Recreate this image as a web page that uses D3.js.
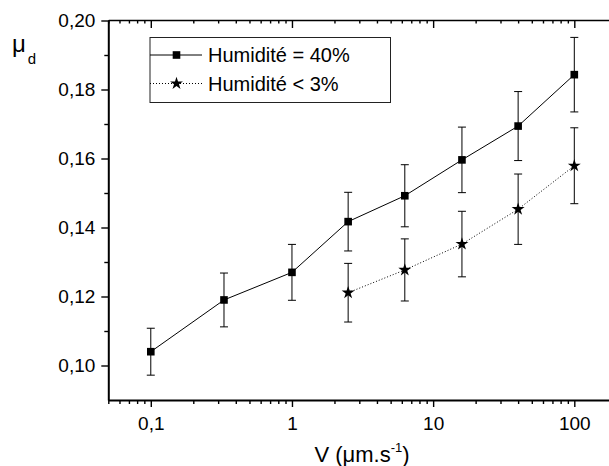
<!DOCTYPE html>
<html>
<head>
<meta charset="utf-8">
<script src="https://cdn.jsdelivr.net/npm/d3@7"></script>
<style>
  body { margin: 0; background: #fff; }
  svg { display: block; font-family: Arial, "Liberation Sans", sans-serif; }
</style>
</head>
<body>
<div id="chart"></div>
<script>
// speeds (µm/s) and friction coefficient
var speeds = [0.1, 0.33, 1, 2.5, 6.3, 16, 40, 100];
var muWet = [0.104, 0.119, 0.127, 0.1417, 0.1492, 0.1596, 0.1694, 0.1843];
var errWet = [0.0068, 0.0078, 0.0081, 0.0085, 0.0090, 0.0095, 0.0100, 0.0108];
var speedsDry = [2.5, 6.3, 16, 40, 100];
var muDry = [0.1211, 0.1277, 0.1352, 0.1453, 0.1579];
var errDry = [0.0085, 0.0090, 0.0095, 0.0102, 0.0110];

var seriesNames = ["Humidité = 40%", "Humidité < 3%"];
var yMajor = [0.10, 0.12, 0.14, 0.16, 0.18, 0.20];
var yMinor = [0.11, 0.13, 0.15, 0.17, 0.19];
var xMajor = [0.1, 1, 10, 100];
var xMajorLabels = ["0,1", "1", "10", "100"];

var width = 609, height = 466;
var x = d3.scaleLog().domain([0.05, 200]).range([108.3, 616.8]);
var y = d3.scaleLinear().domain([0.09, 0.20]).range([400, 20.5]);

var xMinor = [];
[0.01, 0.1, 1, 10, 100].forEach(function (d) {
  for (var k = 2; k <= 9; k++) {
    var v = +(d * k).toPrecision(3);
    if (v >= 0.05 && v <= 200) xMinor.push(v);
  }
});

var svg = d3.select("#chart").append("svg").attr("width", width).attr("height", height);

var fmtY = function (d) { return d3.format(".2f")(d).replace(".", ","); };

// bottom axis
svg.append("g").attr("transform", "translate(0,400)")
  .call(d3.axisBottom(x).tickValues(xMinor).tickSize(4).tickFormat("").tickSizeOuter(0))
  .call(function (g) { g.select(".domain").remove(); });
var xAx = svg.append("g").attr("transform", "translate(0,400)")
  .call(d3.axisBottom(x).tickValues(xMajor).tickSize(7).tickSizeOuter(0)
    .tickFormat(function (d, i) { return xMajorLabels[i]; }).tickPadding(10));
xAx.select(".domain").attr("stroke-width", 2);
xAx.selectAll("text").attr("font-size", 19).attr("font-family", "Arial, Liberation Sans").attr("fill", "#000");

// top axis, ticks inward
svg.append("g").attr("transform", "translate(0,20)")
  .call(d3.axisBottom(x).tickValues(xMinor).tickSize(3.5).tickFormat("").tickSizeOuter(0))
  .call(function (g) { g.select(".domain").remove(); });
var topAx = svg.append("g").attr("transform", "translate(0,20)")
  .call(d3.axisBottom(x).tickValues(xMajor).tickSize(8).tickFormat("").tickSizeOuter(0));
topAx.select(".domain").attr("stroke-width", 1.5);

// left axis
svg.append("g").attr("transform", "translate(108.3,0)")
  .call(d3.axisLeft(y).tickValues(yMinor).tickSize(4).tickFormat("").tickSizeOuter(0))
  .call(function (g) { g.select(".domain").remove(); });
var yAx = svg.append("g").attr("transform", "translate(108.3,0)")
  .call(d3.axisLeft(y).tickValues(yMajor).tickSize(7).tickSizeOuter(0).tickFormat(fmtY).tickPadding(6));
yAx.select(".domain").attr("stroke-width", 2);
yAx.selectAll("text").attr("font-size", 19).attr("font-family", "Arial, Liberation Sans").attr("fill", "#000");
svg.selectAll(".tick line").attr("stroke-width", 1.4);

// axis titles
var xt = svg.append("text").attr("x", 362).attr("y", 462).attr("text-anchor", "middle")
  .attr("font-size", 22);
xt.append("tspan").text("V (\u03bcm.s");
xt.append("tspan").attr("font-size", 13).attr("dy", -10).text("-1");
xt.append("tspan").attr("dy", 10).text(")");

var yt = svg.append("text").attr("x", 12).attr("y", 52).attr("font-size", 24);
yt.append("tspan").text("\u03bc");
yt.append("tspan").attr("font-size", 15).attr("dy", 12).attr("dx", 2).text("d");

var wet = speeds.map(function (d, i) { return { x: d, y: muWet[i], e: errWet[i] }; });
var dry = speedsDry.map(function (d, i) { return { x: d, y: muDry[i], e: errDry[i] }; });

var line = d3.line().x(function (d) { return x(d.x); }).y(function (d) { return y(d.y); });

function errorBars(data) {
  var g = svg.append("g").attr("stroke", "#000").attr("stroke-width", 1);
  data.forEach(function (d) {
    var cx = x(d.x), y0 = y(d.y - d.e), y1 = y(d.y + d.e);
    g.append("line").attr("x1", cx).attr("x2", cx).attr("y1", y0).attr("y2", y1);
    g.append("line").attr("x1", cx - 4).attr("x2", cx + 4).attr("y1", y0).attr("y2", y0);
    g.append("line").attr("x1", cx - 4).attr("x2", cx + 4).attr("y1", y1).attr("y2", y1);
  });
}
errorBars(wet);
errorBars(dry);

svg.append("path").datum(wet).attr("d", line).attr("fill", "none").attr("stroke", "#000").attr("stroke-width", 1);
svg.append("path").datum(dry).attr("d", line).attr("fill", "none").attr("stroke", "#000")
  .attr("stroke-width", 1).attr("stroke-dasharray", "1,2");

var square = d3.symbol().type(d3.symbolSquare).size(58);
var star = d3.symbol().type(d3.symbolStar).size(52);

svg.selectAll(".sq").data(wet).enter().append("path")
  .attr("d", square).attr("fill", "#000")
  .attr("transform", function (d) { return "translate(" + x(d.x) + "," + y(d.y) + ")"; });
svg.selectAll(".st").data(dry).enter().append("path")
  .attr("d", star).attr("fill", "#000")
  .attr("transform", function (d) { return "translate(" + x(d.x) + "," + y(d.y) + ")"; });

// legend
var lg = svg.append("g");
lg.append("rect").attr("x", 150).attr("y", 37.5).attr("width", 240.5).attr("height", 65)
  .attr("fill", "#fff").attr("stroke", "#222").attr("stroke-width", 1);
lg.append("line").attr("x1", 150).attr("x2", 202).attr("y1", 55).attr("y2", 55).attr("stroke", "#000");
lg.append("path").attr("d", square).attr("transform", "translate(176.5,55)");
lg.append("line").attr("x1", 150).attr("x2", 202).attr("y1", 83.5).attr("y2", 83.5)
  .attr("stroke", "#000").attr("stroke-dasharray", "1,2");
lg.append("path").attr("d", star).attr("transform", "translate(176.5,83.5)");
lg.selectAll("text").data(seriesNames).enter().append("text")
  .attr("x", 208).attr("y", function (d, i) { return 62 + i * 28.5; })
  .attr("font-size", 20).text(function (d) { return d; });
</script>
</body>
</html>
